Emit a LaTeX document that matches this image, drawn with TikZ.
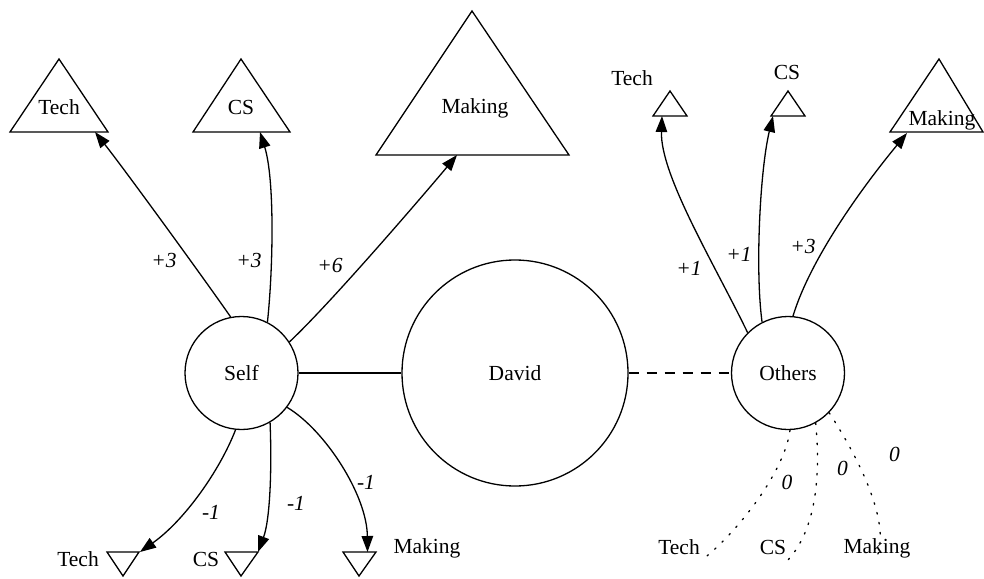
\documentclass[tikz,border=0pt]{standalone}
\usepackage{fontspec}
\setmainfont{Liberation Serif}
\usetikzlibrary{arrows.meta}

\tikzset{
  every picture/.style={line width=1.3pt},
  person/.style={circle, draw, inner sep=0pt},
  lbl/.style={inner sep=0pt, font=\fontsize{21.5}{25}\selectfont},
  wlbl/.style={inner sep=0pt, font=\fontsize{21.5}{25}\selectfont\itshape},
  tri/.style={draw, line join=miter},
  link/.style={-{Triangle[length=16pt,width=11.5pt]}},
  zerolink/.style={dash pattern=on 1.6pt off 8.5pt, line cap=round},
}

\begin{document}
\begin{tikzpicture}[x=1pt, y=-1pt]
\useasboundingbox (0,0) rectangle (984,578);

% the three people
\node[person, minimum size=113pt] (self) at (241.5,373) {};
\node[person, minimum size=226pt] (david) at (515,373) {};
\node[person, minimum size=113pt] (others) at (788,373) {};
\node[lbl] (selfl) at (241.5,373) {Self};
\node[lbl] (davidl) at (515,373) {David};
\node[lbl] (othersl) at (788,373) {Others};

\draw (self.east) -- (david.west);
\draw[dash pattern=on 10pt off 8pt] (david.east) -- (others.west);

% Self: upward triangles
\draw[tri] (59,59) -- (108,132) -- (10,132) -- cycle;
\draw[tri] (241,59) -- (290,132) -- (193,132) -- cycle;
\draw[tri] (472,11) -- (569,155) -- (376,155) -- cycle;
\node[lbl] (stech) at (59,107) {Tech};
\node[lbl] (scs) at (241,107) {CS};
\node[lbl] (smak) at (475,108) {Making};
\coordinate (stechTip) at (95,132);
\coordinate (scsTip) at (260,132);
\coordinate (smakTip) at (457,155);

% Self: downward triangles
\draw[tri] (107,552) -- (139,552) -- (123,576) -- cycle;
\draw[tri] (225,552) -- (258,552) -- (241,576) -- cycle;
\draw[tri] (343,552) -- (376,552) -- (359,576) -- cycle;
\node[lbl] (sntech) at (78,559) {Tech};
\node[lbl] (sncs) at (206,559) {CS};
\node[lbl] (snmak) at (427,548) {Making};
\coordinate (sntechTip) at (140,552);
\coordinate (sncsTip) at (258,552);
\coordinate (snmakTip) at (367.5,552);

% Others: upward triangles
\draw[tri] (670,91) -- (687,116) -- (653,116) -- cycle;
\draw[tri] (788,91) -- (805,116) -- (771,116) -- cycle;
\draw[tri] (939,59) -- (983,132) -- (890,132) -- cycle;
\node[lbl] (otech) at (632,78) {Tech};
\node[lbl] (ocs) at (787,72) {CS};
\node[lbl] (omak) at (942,120) {Making};
\coordinate (otechTip) at (662,116);
\coordinate (ocsTip) at (773,116);
\coordinate (omakTip) at (907,133);

% Others: neutral targets
\node[lbl] (ontech) at (679,547) {Tech};
\node[lbl] (oncs) at (773,547) {CS};
\node[lbl] (onmak) at (877,548) {Making};
\coordinate (ontechEnd) at (702,560);
\coordinate (oncsEnd) at (788,560);
\coordinate (onmakEnd) at (876,559);

% Self edges
\draw[link] (self.101.6) .. controls (205,280) and (125,170) .. (stechTip);
\draw[link] (self.63.4) .. controls (273,270) and (275,180) .. (scsTip);
\draw[link] (self.33) .. controls (333,301) and (432,185) .. (smakTip);
\draw[link] (self.-96.5) .. controls (220,470) and (185,520) .. (sntechTip);
\draw[link] (self.-60.3) .. controls (272,470) and (270,520) .. (sncsTip);
\draw[link] (self.-37.7) .. controls (325,430) and (367,495) .. (snmakTip);

% Others edges
\draw[link] (others.135.7) .. controls (715,265) and (660,175) .. (otechTip);
\draw[link] (others.117) .. controls (755,270) and (760,170) .. (ocsTip);
\draw[link] (others.85) .. controls (810,260) and (860,190) .. (omakTip);
\draw[zerolink] (others.-88) .. controls (785,470) and (740,530) .. (ontechEnd);
\draw[zerolink] (others.-61) .. controls (821,480) and (815,530) .. (oncsEnd);
\draw[zerolink] (others.-44) .. controls (860,460) and (892,525) .. (onmakEnd);

% weights
\node[wlbl] (w1) at (164,260) {+3};
\node[wlbl] (w2) at (249,260) {+3};
\node[wlbl] (w3) at (330,265) {+6};
\node[wlbl] (w4) at (211,512) {-1};
\node[wlbl] (w5) at (296,503) {-1};
\node[wlbl] (w6) at (366,482) {-1};
\node[wlbl] (w7) at (689,268) {+1};
\node[wlbl] (w8) at (739,254) {+1};
\node[wlbl] (w9) at (803,246) {+3};
\node[wlbl] (w10) at (787,482) {0};
\node[wlbl] (w11) at (842.5,468) {0};
\node[wlbl] (w12) at (894.5,454) {0};
\end{tikzpicture}
\end{document}
